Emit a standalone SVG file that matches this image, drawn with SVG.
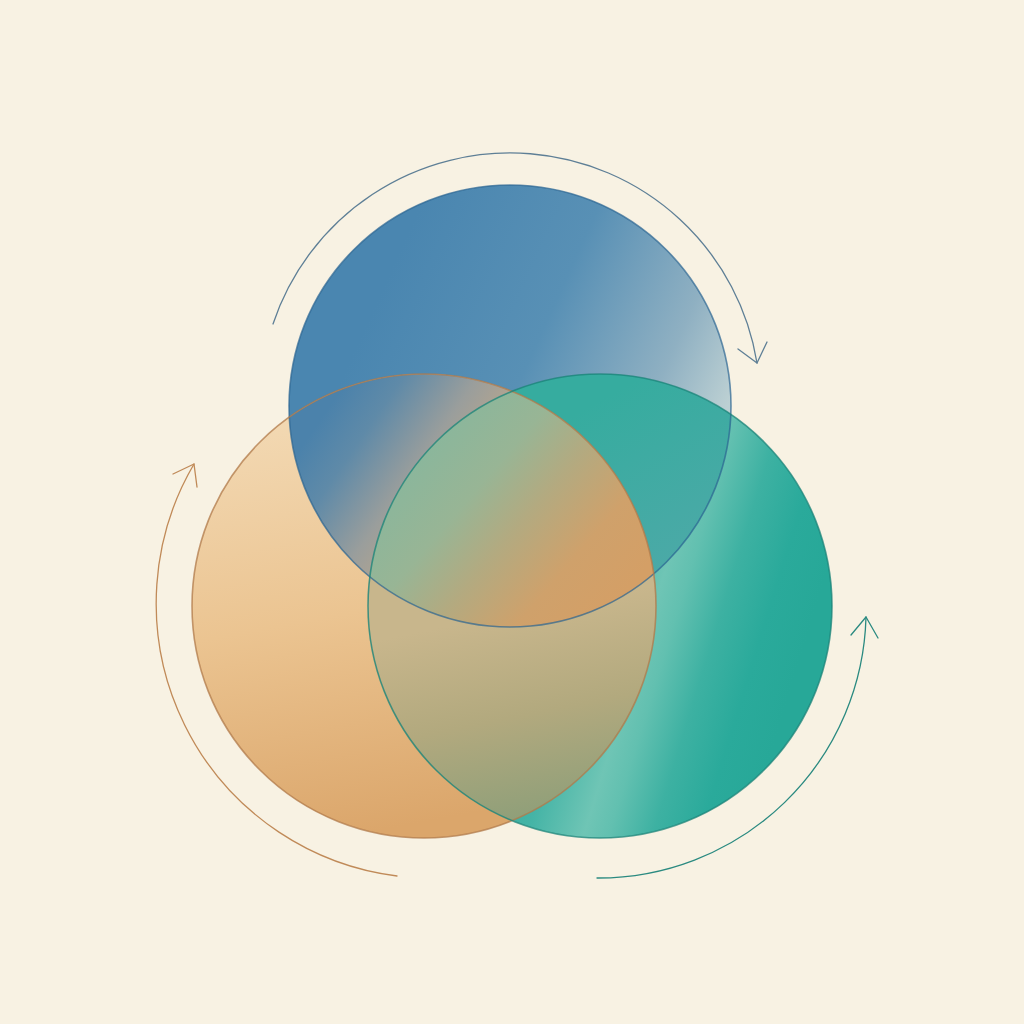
<svg xmlns="http://www.w3.org/2000/svg" width="1024" height="1024" viewBox="0 0 1024 1024">
  <defs>
    <clipPath id="cB"><circle cx="510" cy="406" r="221"/></clipPath>
    <clipPath id="cO"><circle cx="424" cy="606" r="232"/></clipPath>
    <clipPath id="cT"><circle cx="600" cy="606" r="232"/></clipPath>
    <linearGradient id="gB" gradientUnits="userSpaceOnUse" x1="400" y1="250" x2="730" y2="400">
      <stop offset="0" stop-color="#4a86b0"/>
      <stop offset="0.45" stop-color="#5890b5"/>
      <stop offset="0.8" stop-color="#8fb0c2"/>
      <stop offset="1" stop-color="#bcd0d3"/>
    </linearGradient>
    <linearGradient id="gO" gradientUnits="userSpaceOnUse" x1="300" y1="400" x2="380" y2="830">
      <stop offset="0" stop-color="#f3dab5"/>
      <stop offset="0.5" stop-color="#ebc491"/>
      <stop offset="1" stop-color="#dba66b"/>
    </linearGradient>
    <linearGradient id="gT" gradientUnits="userSpaceOnUse" x1="507" y1="596" x2="793" y2="684">
      <stop offset="0" stop-color="#2aa89a"/>
      <stop offset="0.3" stop-color="#45b4a6"/>
      <stop offset="0.48" stop-color="#6fc5b5"/>
      <stop offset="0.56" stop-color="#62c0b0"/>
      <stop offset="0.7" stop-color="#3db1a2"/>
      <stop offset="0.85" stop-color="#2aaa9b"/>
      <stop offset="1" stop-color="#27a898"/>
    </linearGradient>
    <linearGradient id="gBO" gradientUnits="userSpaceOnUse" x1="320" y1="420" x2="465" y2="520">
      <stop offset="0" stop-color="#4b82ab"/>
      <stop offset="0.25" stop-color="#5f8aa8"/>
      <stop offset="0.6" stop-color="#9a9e9c"/>
      <stop offset="1" stop-color="#c6a986"/>
    </linearGradient>
    <linearGradient id="gBT" gradientUnits="userSpaceOnUse" x1="600" y1="400" x2="700" y2="580">
      <stop offset="0" stop-color="#36ac9f"/>
      <stop offset="1" stop-color="#4ea9a8"/>
    </linearGradient>
    <linearGradient id="gOT" gradientUnits="userSpaceOnUse" x1="480" y1="620" x2="520" y2="820">
      <stop offset="0" stop-color="#c8b68c"/>
      <stop offset="0.5" stop-color="#b2a97e"/>
      <stop offset="1" stop-color="#8f9f79"/>
    </linearGradient>
    <linearGradient id="gBOT" gradientUnits="userSpaceOnUse" x1="400" y1="430" x2="610" y2="610">
      <stop offset="0" stop-color="#84b79f"/>
      <stop offset="0.35" stop-color="#98b595"/>
      <stop offset="0.55" stop-color="#b3aa80"/>
      <stop offset="0.78" stop-color="#cfa16b"/>
      <stop offset="1" stop-color="#d49f66"/>
    </linearGradient>
    <style>
      .arc { fill: none; stroke-width: 1.3; stroke-linecap: round; stroke-linejoin: round; }
      .outline { fill: none; stroke-width: 1.6; }
    </style>
  </defs>

  <rect width="1024" height="1024" fill="#f8f2e3"/>

  <g id="circle-blue">
    <circle cx="510" cy="406" r="221" fill="url(#gB)"/>
  </g>
  <g id="circle-orange">
    <circle cx="424" cy="606" r="232" fill="url(#gO)"/>
    <circle cx="424" cy="606" r="232" fill="url(#gBO)" clip-path="url(#cB)"/>
  </g>
  <g id="circle-teal">
    <circle cx="600" cy="606" r="232" fill="url(#gT)"/>
    <circle cx="510" cy="406" r="221" fill="url(#gBT)" clip-path="url(#cT)"/>
    <circle cx="424" cy="606" r="232" fill="url(#gOT)" clip-path="url(#cT)"/>
    <g clip-path="url(#cT)">
      <circle cx="424" cy="606" r="232" fill="url(#gBOT)" clip-path="url(#cB)"/>
    </g>
  </g>
  <g id="outlines">
    <circle class="outline" cx="510" cy="406" r="221" stroke="#2a6492" stroke-opacity="0.7"/>
    <circle class="outline" cx="424" cy="606" r="232" stroke="#b0794a" stroke-opacity="0.75"/>
    <circle class="outline" cx="600" cy="606" r="232" stroke="#1b8378" stroke-opacity="0.75"/>
  </g>

  <g id="connectors">
    <path class="arc" stroke="#5e7f96" d="M273,324 A250,250 0 0 1 757,363"/>
    <polyline class="arc" stroke="#5e7f96" points="738,349 757,363 767,342"/>
    <path class="arc" stroke="#c08a58" d="M397,876 A275,275 0 0 1 194,464"/>
    <polyline class="arc" stroke="#c08a58" points="173,474 194,464 197,487"/>
    <path class="arc" stroke="#2a8a80" d="M597,878 A268,268 0 0 0 866,617"/>
    <polyline class="arc" stroke="#2a8a80" points="851,635 866,617 878,638"/>
  </g>
</svg>
